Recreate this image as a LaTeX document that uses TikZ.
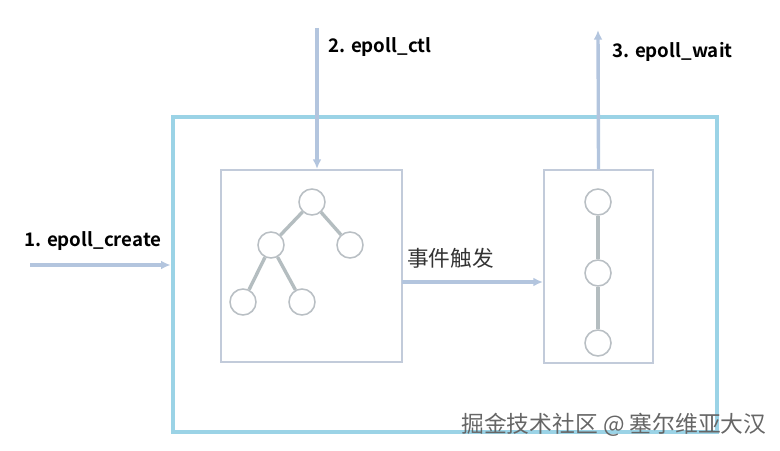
\documentclass[tikz,border=0pt]{standalone}
\usepackage{fontspec}
\usepackage{xcolor}
\usetikzlibrary{arrows.meta,positioning,calc}
\newfontfamily\cjkfont{Noto Sans CJK SC}
\newfontfamily\cjkbold{Noto Sans CJK SC Bold}
\definecolor{epblue}{HTML}{9BD3E6}
\definecolor{eparrow}{HTML}{B3C5DE}
\definecolor{epbox}{HTML}{C2CBDA}
\definecolor{epnode}{HTML}{B9BFC4}
\definecolor{epedge}{HTML}{B4BDC0}

\begin{document}
\begin{tikzpicture}[x=0.025cm, y=-0.025cm,
  flow/.style={-{Latex[length=2.4mm,width=2.2mm]}, line width=2.4pt, color=eparrow},
  inbox/.style={draw=epbox, line width=1.4pt, fill=white, inner sep=0pt},
  fdnode/.style={draw=epnode, circle, line width=1.1pt, fill=white, minimum size=0.65cm, inner sep=0pt},
  tedge/.style={line width=2.4pt, color=epedge},
  steplabel/.style={font=\cjkbold\fontsize{13.3}{15}\selectfont, text=black, inner sep=0pt, anchor=west}]
  \useasboundingbox (0,0) rectangle (780,451);

  \node[draw=epblue, line width=3.2pt, minimum width=13.6cm, minimum height=7.875cm] (epoll) at (445,274.5) {};
  \node[inbox, minimum width=4.525cm, minimum height=4.8cm] (rbt) at (311.5,266) {};
  \node[inbox, minimum width=2.725cm, minimum height=4.825cm] (rdl) at (598.5,266.5) {};

  % red-black tree
  \node[fdnode] (t1) at (312,202) {};
  \node[fdnode] (t2) at (271,245) {};
  \node[fdnode] (t3) at (350,245) {};
  \node[fdnode] (t4) at (243,302) {};
  \node[fdnode] (t5) at (302,302) {};
  \draw[tedge] (t1) -- (t2);
  \draw[tedge] (t1) -- (t3);
  \draw[tedge] (t2) -- (t4);
  \draw[tedge] (t2) -- (t5);

  % ready list
  \node[fdnode] (r1) at (598,202) {};
  \node[fdnode] (r2) at (598,273) {};
  \node[fdnode] (r3) at (598,343) {};
  \draw[tedge] (r1) -- (r2);
  \draw[tedge] (r2) -- (r3);

  \coordinate (create) at (30,265);
  \coordinate (ctl) at (317,28);
  \coordinate (wait) at (598,30);
  \coordinate (fire) at (402,282);

  \draw[flow] (create) -- (create -| epoll.west);
  \draw[flow] (ctl) -- (ctl |- rbt.north);
  \draw[flow] (rdl.north) -- (wait);
  \draw[flow] (fire) -- (fire -| rdl.west);

  \node[steplabel] (lcreate) at (24,241) {1. epoll\_create};
  \node[steplabel] (lctl) at (328,47) {2. epoll\_ctl};
  \node[steplabel] (lwait) at (612,52) {3. epoll\_wait};
  \node[font=\cjkfont\fontsize{15.4}{17}\selectfont, text=black!80, inner sep=0pt, anchor=west] (lfire) at (407,258) {事件触发};

  \node[font=\cjkfont\fontsize{16.2}{18}\selectfont, text=black!60, inner sep=0pt, anchor=west] (mark) at (461,425) {掘金技术社区 @ 塞尔维亚大汉};
\end{tikzpicture}
\end{document}
